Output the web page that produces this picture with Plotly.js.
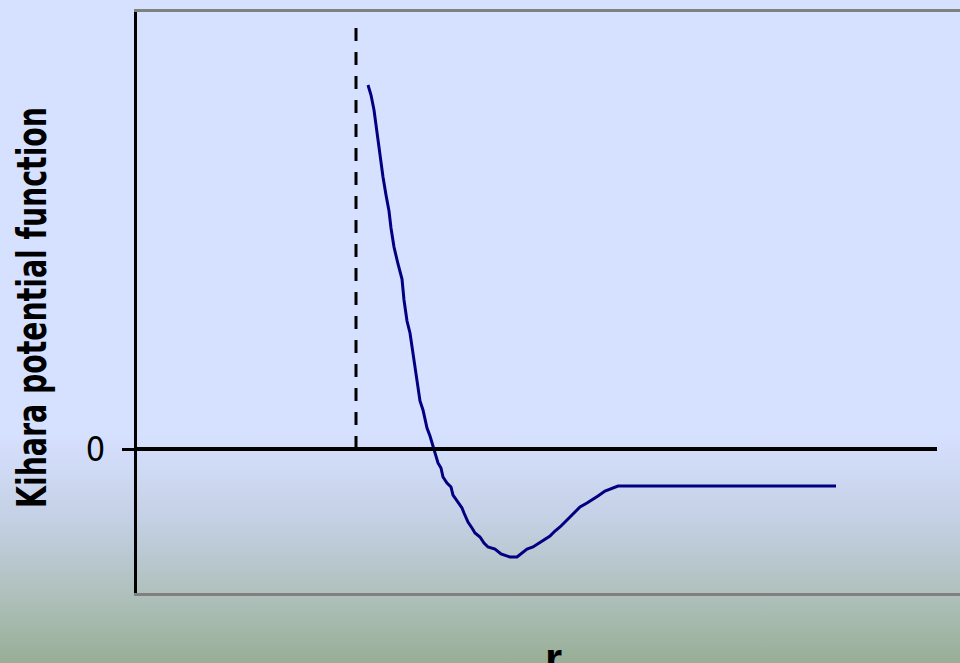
<!DOCTYPE html>
<html>
<head>
<meta charset="utf-8">
<script src="https://cdn.plot.ly/plotly-3.0.1.min.js"></script>
<style>
html,body{margin:0;padding:0;width:960px;height:663px;overflow:hidden;}
body{background:linear-gradient(to bottom,#d6e0ff 0px,#d6e0ff 435px,#c4d0e4 520px,#adbfb9 600px,#98ae96 663px);}
#chart{width:960px;height:663px;}
</style>
</head>
<body>
<div id="chart"></div>
<script>
// Separation distance r (arbitrary units)
const rValues = [2.31,2.34,2.37,2.39,2.41,2.44,2.46,2.49,2.52,2.54,2.57,2.61,2.65,2.67,2.70,2.73,2.76,2.78,2.81,2.83,2.86,2.88,2.90,2.93,2.95,2.97,2.99,3.01,3.04,3.06,3.10,3.14,3.16,3.21,3.25,3.27,3.31,3.35,3.38,3.43,3.47,3.51,3.58,3.64,3.73,3.80,3.85,3.90,3.96,4.01,4.08,4.13,4.18,4.23,4.28,4.33,4.38,4.43,4.50,4.55,4.61,4.68,4.75,4.81,6.99];
// Kihara potential (arbitrary units)
const potential = [3.64,3.54,3.39,3.23,3.07,2.87,2.72,2.54,2.38,2.21,2.02,1.85,1.70,1.49,1.28,1.16,0.97,0.80,0.65,0.48,0.39,0.29,0.21,0.13,0.06,-0.01,-0.09,-0.14,-0.19,-0.28,-0.34,-0.38,-0.46,-0.53,-0.59,-0.64,-0.73,-0.79,-0.84,-0.88,-0.94,-0.98,-1.00,-1.05,-1.08,-1.08,-1.04,-1.00,-0.98,-0.95,-0.90,-0.87,-0.82,-0.78,-0.73,-0.68,-0.62,-0.58,-0.54,-0.51,-0.47,-0.42,-0.39,-0.37,-0.37];
// Hard-core position (dashed line) and its top
const coreR = 2.19;
const coreTop = 4.26;
// Extent of zero reference line
const zeroLineEnd = 8.0;
// Axis tick labels
const yTickVals = [0];
const yTickText = ['0'];

const trace = {
  x: rValues, y: potential, type: 'scatter', mode: 'lines',
  line: {color: '#000080', width: 3, shape: 'linear'},
  hoverinfo: 'skip'
};

const layout = {
  width: 960, height: 663,
  margin: {l: 137, r: 0, t: 12, b: 70, pad: 0},
  paper_bgcolor: 'rgba(0,0,0,0)',
  plot_bgcolor: 'rgba(0,0,0,0)',
  showlegend: false,
  xaxis: {
    range: [0, 8.23], showgrid: false, zeroline: false,
    showticklabels: false, ticks: '',
    showline: true, linecolor: '#808080', linewidth: 3, mirror: true,
    title: {text: 'r', font: {family: 'Liberation Sans, Arial, sans-serif', size: 44, weight: 'bold', color: '#000'}, standoff: 40}
  },
  yaxis: {
    range: [-1.44, 4.37], showgrid: false, zeroline: false,
    tickmode: 'array', tickvals: yTickVals, ticktext: yTickText,
    ticks: 'outside', ticklen: 12, tickwidth: 3, tickcolor: '#000',
    tickfont: {family: 'DejaVu Sans Condensed, DejaVu Sans, sans-serif', size: 34, color: '#000'},
    ticklabelstandoff: 10,
    showline: true, linecolor: '#000', linewidth: 3,
    title: {text: 'Kihara potential function', font: {family: 'DejaVu Sans Condensed, DejaVu Sans, sans-serif', size: 41, weight: 'bold', color: '#000'}, standoff: 30}
  },
  shapes: [
    {type: 'line', xref: 'x', yref: 'y', x0: 0, x1: zeroLineEnd, y0: 0, y1: 0, line: {color: '#000', width: 4}},
    {type: 'line', xref: 'x', yref: 'y', x0: coreR, x1: coreR, y0: 0, y1: coreTop, line: {color: '#000', width: 3, dash: '13px,11px'}}
  ]
};

function nudge(el, dx, dy) {
  if (!el) return;
  const prev = el.getAttribute('transform') || '';
  el.setAttribute('transform', 'translate(' + dx + ',' + dy + ') ' + prev);
}

Plotly.newPlot('chart', [trace], layout, {staticPlot: true, displayModeBar: false}).then(function (gd) {
  // Condense the y-axis title to the narrow width of the original lettering
  const t = gd.querySelector('.ytitle');
  if (t) {
    t.setAttribute('textLength', '401');
    t.setAttribute('lengthAdjust', 'spacingAndGlyphs');
  }
  nudge(gd.querySelector('.g-ytitle'), 3, 5);
  nudge(gd.querySelector('.g-xtitle'), 5, 20);
});
</script>
</body>
</html>
